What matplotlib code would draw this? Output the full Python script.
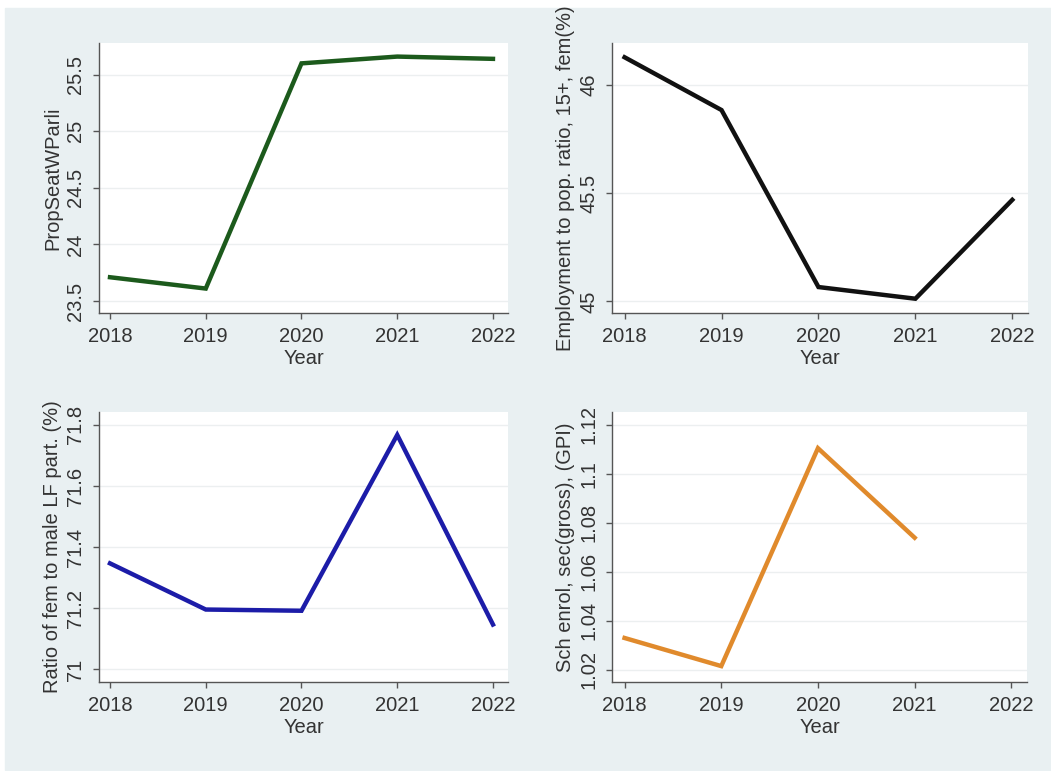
'''2x2 panel of gender indicators by year, stata-like style'''

import numpy as np
import matplotlib
matplotlib.use('Agg')
import matplotlib.pyplot as plt
from matplotlib.patches import Rectangle


years = [2018, 2019, 2020, 2021, 2022]

seats_parl = [23.71, 23.61, 25.60, 25.66, 25.64]
emp_pop_fem = [46.128, 45.884, 45.066, 45.012, 45.469]
lf_ratio = [71.347, 71.196, 71.192, 71.767, 71.147]
sch_enrol_gpi = [1.0329, 1.0214, 1.1105, 1.0739, np.nan]

labels = ["PropSeatWParli",
          "Employment to pop. ratio, 15+, fem(%)",
          "Ratio of fem to male LF part. (%)",
          "Sch enrol, sec(gross), (GPI)"]

yticks_1 = [23.5, 24, 24.5, 25, 25.5]
yticks_2 = [45, 45.5, 46]
yticks_3 = [71, 71.2, 71.4, 71.6, 71.8]
yticks_4 = [1.02, 1.04, 1.06, 1.08, 1.1, 1.12]

ytl_1 = ["23.5", "24", "24.5", "25", "25.5"]
ytl_2 = ["45", "45.5", "46"]
ytl_3 = ["71", "71.2", "71.4", "71.6", "71.8"]
ytl_4 = ["1.02", "1.04", "1.06", "1.08", "1.1", "1.12"]

plt.rcParams['font.family'] = ['Liberation Sans', 'DejaVu Sans']

W, H = 1051, 771
TXT = '#333333'
AX = '#555555'
FS = 14.5


# make one panel, box given in pixels (left, top, right, bottom)
def make_panel(fig, box, xlim, ylim, y, color, ylabel, ticks, ticklabels):
    l, t, r, b = box
    ax = fig.add_axes([l / W, (H - b) / H, (r - l) / W, (b - t) / H])
    ax.set_facecolor('white')
    ax.plot(years, y, color=color, lw=3.2, solid_joinstyle='miter')
    ax.set_xlim(xlim)
    ax.set_ylim(ylim)
    ax.set_xticks(years)
    ax.set_xticklabels([str(v) for v in years])
    ax.set_yticks(ticks)
    ax.set_yticklabels(ticklabels, rotation=90, va='center')
    ax.yaxis.grid(True, color='#eceff0', lw=1.0)
    ax.set_axisbelow(True)
    for s in ['top', 'right']:
        ax.spines[s].set_visible(False)
    for s in ['left', 'bottom']:
        ax.spines[s].set_color(AX)
        ax.spines[s].set_linewidth(1.0)
    ax.tick_params(axis='both', colors=AX, labelcolor=TXT, labelsize=FS,
                   length=4, width=1.0)
    ax.tick_params(axis='y', pad=6)
    ax.tick_params(axis='x', pad=6)
    ax.set_xlabel("Year", fontsize=FS, color=TXT, labelpad=2)
    ax.set_ylabel(ylabel, fontsize=FS, color=TXT, labelpad=3)
    return ax


fig = plt.figure(figsize=(W / 100, H / 100), dpi=100)
fig.patch.set_facecolor('white')
fig.patches.append(Rectangle((5 / W, 1 / H), 1 - 5 / W, (770 - 8) / H,
                             transform=fig.transFigure, color='#e9f0f2',
                             zorder=-10))

make_panel(fig, (99, 43, 508, 313), (2017.885, 2022.157), (23.394, 25.78),
           seats_parl, '#1c5a1c', labels[0], yticks_1, ytl_1)
make_panel(fig, (612, 43, 1028, 313), (2017.870, 2022.162), (44.946, 46.194),
           emp_pop_fem, '#111111', labels[1], yticks_2, ytl_2)
make_panel(fig, (99, 412, 508, 682), (2017.885, 2022.157), (70.959, 71.842),
           lf_ratio, '#1c1ca8', labels[2], yticks_3, ytl_3)
make_panel(fig, (612, 412, 1027, 682), (2017.870, 2022.162), (1.0149, 1.1253),
           sch_enrol_gpi, '#e08a2c', labels[3], yticks_4, ytl_4)

fig.savefig('out.png', dpi=100, facecolor=fig.get_facecolor())
